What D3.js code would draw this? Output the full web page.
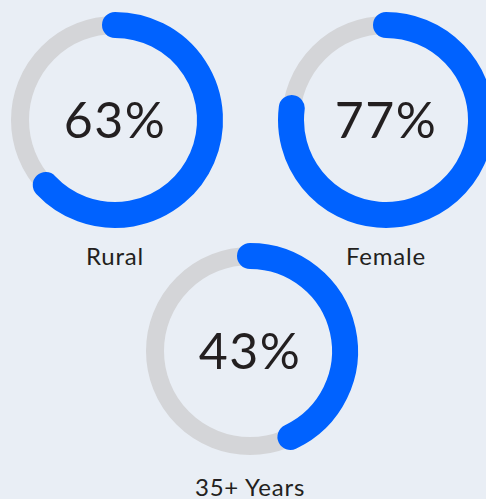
<!DOCTYPE html>
<html lang="en">
<head>
  <meta charset="utf-8">
  <title>Donuts</title>
  <style>
    html, body { margin: 0; padding: 0; background: #e9eef5; }
    svg { display: block; }
  </style>
</head>
<body>
  <script src="https://d3js.org/d3.v7.min.js"></script>
  <script>
    var width = 486;
    var height = 499;

    // data
    var labels = ["Rural", "Female", "35+ Years"];
    var values = [63, 77, 43];
    var centersX = [115, 386, 250];
    var centersY = [120, 120, 351];

    var radius = 95;
    var trackWidth = 18;
    var barWidth = 26;

    var svg = d3.select("body").append("svg")
                .attr("width", width)
                .attr("height", height);

    var angle = d3.scaleLinear().domain([0, 100]).range([0, 2 * Math.PI]);

    // zero-width arc, then stroked, so the ends come out round
    var arc = d3.arc()
                .innerRadius(radius)
                .outerRadius(radius)
                .startAngle(0)
                .endAngle(function(d) { return angle(d); });

    var g = svg.selectAll("g.donut")
               .data(values)
               .enter().append("g")
               .attr("class", "donut")
               .attr("transform", function(d, i) { return "translate(" + centersX[i] + "," + centersY[i] + ")"; });

    g.append("circle")
     .attr("r", radius)
     .attr("fill", "none")
     .attr("stroke", "#d4d5d8")
     .attr("stroke-width", trackWidth);

    g.append("path")
     .attr("d", function(d) { return arc(d); })
     .attr("fill", "none")
     .attr("stroke", "#0062ff")
     .attr("stroke-width", barWidth)
     .attr("stroke-linejoin", "round")
     .attr("stroke-linecap", "round");

    g.append("text")
     .text(function(d) { return d + "%"; })
     .attr("text-anchor", "middle")
     .attr("y", 18)
     .attr("font-family", "Lato, sans-serif")
     .attr("font-size", 50)
     .attr("letter-spacing", 1.5)
     .attr("fill", "#231f20");

    g.append("text")
     .text(function(d, i) { return labels[i]; })
     .attr("text-anchor", "middle")
     .attr("y", 145)
     .attr("font-family", "Lato, sans-serif")
     .attr("font-size", 24)
     .attr("letter-spacing", 0.8)
     .attr("fill", "#231f20");
  </script>
</body>
</html>
